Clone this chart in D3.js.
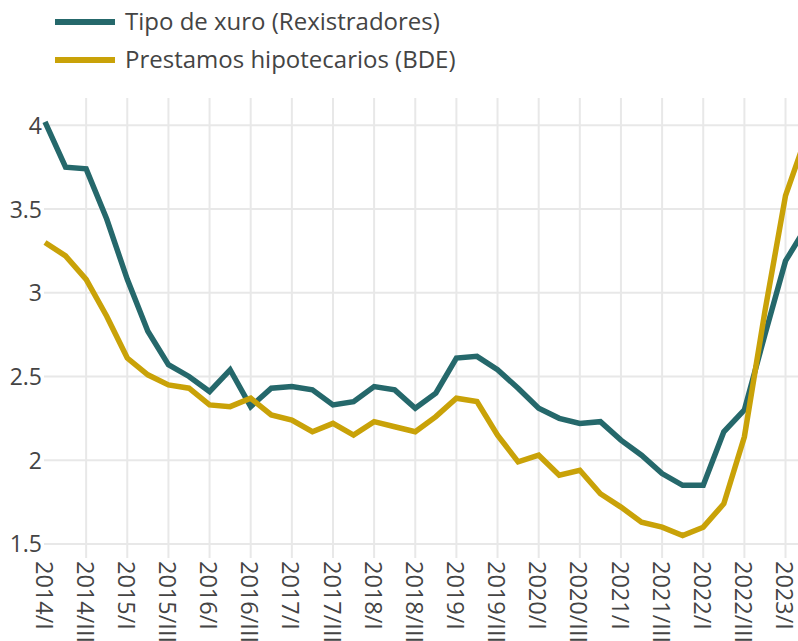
<!DOCTYPE html>
<html>
<head>
<meta charset="utf-8">
<script src="https://cdn.jsdelivr.net/npm/d3@7"></script>
<style>
  body { margin: 0; background: #fff; overflow: hidden; }
  svg { display: block; font-family: "Open Sans", sans-serif; }
</style>
</head>
<body>
<div id="chart"></div>
<script>
var years = [2014, 2015, 2016, 2017, 2018, 2019, 2020, 2021, 2022, 2023];
var quarters = ["I", "II", "III", "IV"];

// 2014/I .. 2023/II
var categories = [];
years.forEach(function(y) {
  quarters.forEach(function(q) { categories.push(y + "/" + q); });
});
categories = categories.slice(0, 38);

var seriesNames = ["Tipo de xuro (Rexistradores)", "Prestamos hipotecarios (BDE)"];

var tipoXuro = [4.02, 3.75, 3.74, 3.44, 3.08, 2.77, 2.57, 2.50, 2.41, 2.54,
                2.32, 2.43, 2.44, 2.42, 2.33, 2.35, 2.44, 2.42, 2.31, 2.40,
                2.61, 2.62, 2.54, 2.43, 2.31, 2.25, 2.22, 2.23, 2.12, 2.03,
                1.92, 1.85, 1.85, 2.17, 2.30, 2.75, 3.19, 3.39];

var prestamos = [3.30, 3.22, 3.08, 2.86, 2.61, 2.51, 2.45, 2.43, 2.33, 2.32,
                 2.37, 2.27, 2.24, 2.17, 2.22, 2.15, 2.23, 2.20, 2.17, 2.26,
                 2.37, 2.35, 2.15, 1.99, 2.03, 1.91, 1.94, 1.80, 1.72, 1.63,
                 1.60, 1.55, 1.60, 1.74, 2.14, 2.89, 3.58, 3.93];

var yTicks = [1.5, 2, 2.5, 3, 3.5, 4];

var colors = ["#25686b", "#c9a208"];

var cfg = {
  w: 798,
  h: 641,
  left: 44,
  top: 98,
  bottom: 558,
  step: 20.57
};

var svg = d3.select("#chart")
    .append("svg")
    .attr("width", cfg.w)
    .attr("height", cfg.h);

var x = d3.scalePoint()
    .domain(categories)
    .range([45, 45 + cfg.step * (categories.length - 1)]);

var y = d3.scaleLinear()
    .domain([1.416, 4.163])
    .range([cfg.bottom, cfg.top]);

var xTickVals = categories.filter(function(d, i) { return i % 2 === 0; });

// vertical grid
svg.append("g")
    .selectAll("line")
    .data(xTickVals.slice(1))
  .enter().append("line")
    .attr("x1", function(d) { return x(d); })
    .attr("x2", function(d) { return x(d); })
    .attr("y1", cfg.top)
    .attr("y2", cfg.bottom)
    .style("stroke", "#e8e8e8")
    .style("stroke-width", 2);

// horizontal grid
svg.append("g")
    .selectAll("line")
    .data(yTicks)
  .enter().append("line")
    .attr("x1", cfg.left)
    .attr("x2", cfg.w)
    .attr("y1", function(d) { return y(d); })
    .attr("y2", function(d) { return y(d); })
    .style("stroke", "#e8e8e8")
    .style("stroke-width", 2);

// y axis labels
var yAxis = d3.axisLeft(y)
    .tickValues(yTicks)
    .tickSize(0)
    .tickPadding(0)
    .tickFormat(d3.format("~g"));

svg.append("g")
    .attr("class", "y axis")
    .attr("transform", "translate(42,0)")
    .call(yAxis)
    .call(function(g) { g.select(".domain").remove(); })
  .selectAll("text")
    .attr("dy", "0.35em")
    .style("font-family", "'Open Sans', sans-serif")
    .style("font-size", "23px")
    .style("fill", "#444");

// x axis labels, rotated
var xAxis = d3.axisBottom(x)
    .tickValues(xTickVals)
    .tickSize(0)
    .tickPadding(0);

svg.append("g")
    .attr("class", "x axis")
    .attr("transform", "translate(0,561)")
    .call(xAxis)
    .call(function(g) { g.select(".domain").remove(); })
  .selectAll("text")
    .attr("y", 0)
    .attr("x", 0)
    .attr("dy", "0.42em")
    .attr("transform", "rotate(90)")
    .style("text-anchor", "start")
    .style("font-family", "'Open Sans', sans-serif")
    .style("font-size", "23.5px")
    .style("fill", "#444");

// lines
var line = d3.line()
    .x(function(d, i) { return x(categories[i]); })
    .y(function(d) { return y(d); });

[tipoXuro, prestamos].forEach(function(s, k) {
  svg.append("path")
      .datum(s)
      .attr("d", line)
      .style("fill", "none")
      .style("stroke", colors[k])
      .style("stroke-width", 5.5)
      .style("stroke-linejoin", "miter");
});

// legend
var legend = svg.append("g")
    .selectAll("g")
    .data(seriesNames)
  .enter().append("g")
    .attr("transform", function(d, i) { return "translate(55," + (22 + i * 38) + ")"; });

legend.append("line")
    .attr("x1", 0)
    .attr("x2", 60)
    .style("stroke", function(d, i) { return colors[i]; })
    .style("stroke-width", 6);

legend.append("text")
    .attr("x", 70)
    .attr("dy", "0.35em")
    .style("font-family", "'Open Sans', sans-serif")
    .style("font-size", "24px")
    .style("fill", "#444")
    .text(function(d) { return d; });
</script>
</body>
</html>
